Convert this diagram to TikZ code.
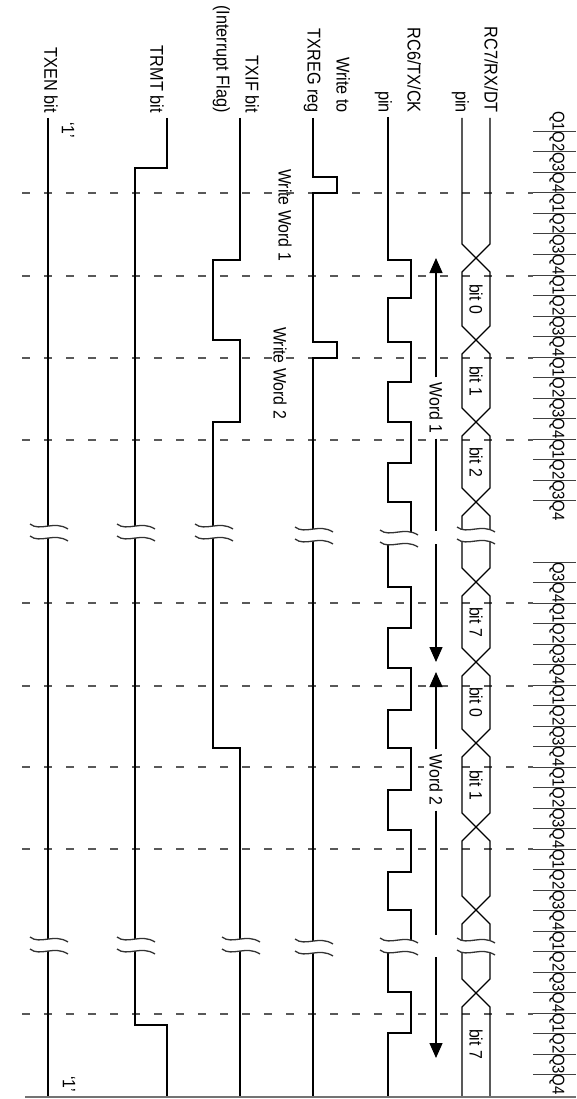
\documentclass[tikz,border=0pt]{standalone}
\usepackage{fontspec}
\setmainfont{Liberation Sans}[FakeStretch=0.88]
\usetikzlibrary{arrows.meta}
\tikzset{
  sig/.style={line width=1.3pt, black},
  lbl/.style={rotate=-90, anchor=east, align=right, inner sep=0pt, font=\fontsize{18.5}{29}\selectfont},
  txt/.style={rotate=-90, inner sep=0pt, font=\fontsize{18}{21}\selectfont},
  qlbl/.style={rotate=-90, inner sep=0pt, font=\fontsize{17}{19}\selectfont},
  qline/.style={dash pattern=on 8pt off 14pt, line width=1.1pt, black!65},
  qtick/.style={line width=1pt, black!75},
  tip/.style={-{Triangle[length=15pt,width=13pt]}},
  brk/.pic={
    \fill[white] (-19,-8) .. controls (-9,0) and (5,-12) .. (19,-3) -- (19,9) .. controls (5,0) and (-9,12) .. (-19,4) -- cycle;
    \draw[line width=1.3pt, black!80] (-19,-8) .. controls (-9,0) and (5,-12) .. (19,-3);
    \draw[line width=1.3pt, black!80] (-19,4) .. controls (-9,12) and (5,0) .. (19,9);
  }
}
\begin{document}
\begin{tikzpicture}[x=1pt,y=-1pt]
  \useasboundingbox (0,0) rectangle (576,1099);
  \node[lbl] (txen) at (51,113) {TXEN bit};
  \node[lbl] (trmt) at (157,113) {TRMT bit};
  \node[lbl] (txif) at (236,113) {TXIF bit\\(Interrupt Flag)};
  \node[lbl] (txreg) at (327,113) {Write to\\TXREG reg};
  \node[lbl] (ck) at (398,113) {RC6/TX/CK\\pin};
  \node[lbl] (dt) at (475,113) {RC7/RX/DT\\pin};
  \node[txt] (one1) at (68,130) {`1'};
  \node[txt] (one2) at (69,1084) {`1'};
  \node[txt] (ww1) at (285,215) {Write Word 1};
  \node[txt] (ww2) at (280,373) {Write Word 2};
  \foreach \y in {193,276,358,440,603,686,767,849,1014}
    \draw[qline] (22,\y) -- (533,\y);
  \foreach \k in {0,...,19} {
    \pgfmathtruncatemacro\q{mod(\k,4)+1}
    \node[qlbl] at (557,{111+20.5*\k+10.25}) {Q\q};
    \ifnum\k>0 \draw[qtick] (533,{111+20.5*\k}) -- (576,{111+20.5*\k}); \fi
  }
  \foreach \k in {0,...,25} {
    \pgfmathtruncatemacro\q{mod(\k+2,4)+1}
    \node[qlbl] at (557,{562+20.5*\k+10.25}) {Q\q};
    \draw[qtick] (533,{562+20.5*\k}) -- (576,{562+20.5*\k});
  }
  \draw[sig] (48,118) -- (48,1096);
  \draw[sig] (167,118) -- (167,168) -- (135,168) -- (135,1025) -- (167,1025) -- (167,1096);
  \draw[sig] (240,118) -- (240,260) -- (213,260) -- (213,340) -- (240,340) -- (240,422)
    -- (213,422) -- (213,748) -- (240,748) -- (240,1096);
  \draw[sig] (313,118) -- (313,177) -- (337,177) -- (337,193) -- (313,193) -- (313,342)
    -- (337,342) -- (337,358) -- (313,358) -- (313,1096);
  \draw[sig] (388,117)
    \foreach \s/\e in {260/298,342/382,422/463,502/540,587/628,668/710,748/790,830/872,910/950,992/1033}
      { -- (388,\s) -- (411,\s) -- (411,\e) -- (388,\e) } -- (388,1096);
  \draw[sig] (462,118) -- (462,244) -- (476,258) -- (490,244) -- (490,118);
  \foreach \a/\b in {258/340,340/422,422/502,502/582,582/662,662/743,743/827,827/910,910/993}
    \draw[sig] (476,\a) -- (462,{\a+14}) -- (462,{\b-14}) -- (476,\b) -- (490,{\b-14}) -- (490,{\a+14}) -- cycle;
  \draw[sig] (462,1096) -- (462,1007) -- (476,993) -- (490,1007) -- (490,1096);
  \foreach \t/\y in {bit 0/299,bit 1/381,bit 2/462,bit 7/622,bit 0/702,bit 1/785,bit 7/1044}
    \node[txt] at (476,\y) {\t};
  \foreach \x/\y in {49/532,136/532,214/532,314/535,399/538,476/535,49/945,136/945,241/945,314/947,399/946,476/946}
    \pic at (\x,\y) {brk};
  \node[txt, fill=white, inner sep=5pt] (w1) at (436,408) {Word 1};
  \coordinate (w1a) at (436,258);
  \coordinate (w1b) at (436,662);
  \coordinate (g1a) at (436,531);
  \coordinate (g1b) at (436,544);
  \draw[sig, tip] (w1.west) -- (w1a);
  \draw[sig] (w1.east) -- (g1a);
  \draw[sig, tip] (g1b) -- (w1b);
  \node[txt, fill=white, inner sep=5pt] (w2) at (436,780) {Word 2};
  \coordinate (w2a) at (436,672);
  \coordinate (w2b) at (436,1058);
  \coordinate (g2a) at (436,935);
  \coordinate (g2b) at (436,957);
  \draw[sig, tip] (w2.west) -- (w2a);
  \draw[sig] (w2.east) -- (g2a);
  \draw[sig, tip] (g2b) -- (w2b);
  \draw[line width=1.8pt, black!55] (25,1097) -- (576,1097);
\end{tikzpicture}
\end{document}
